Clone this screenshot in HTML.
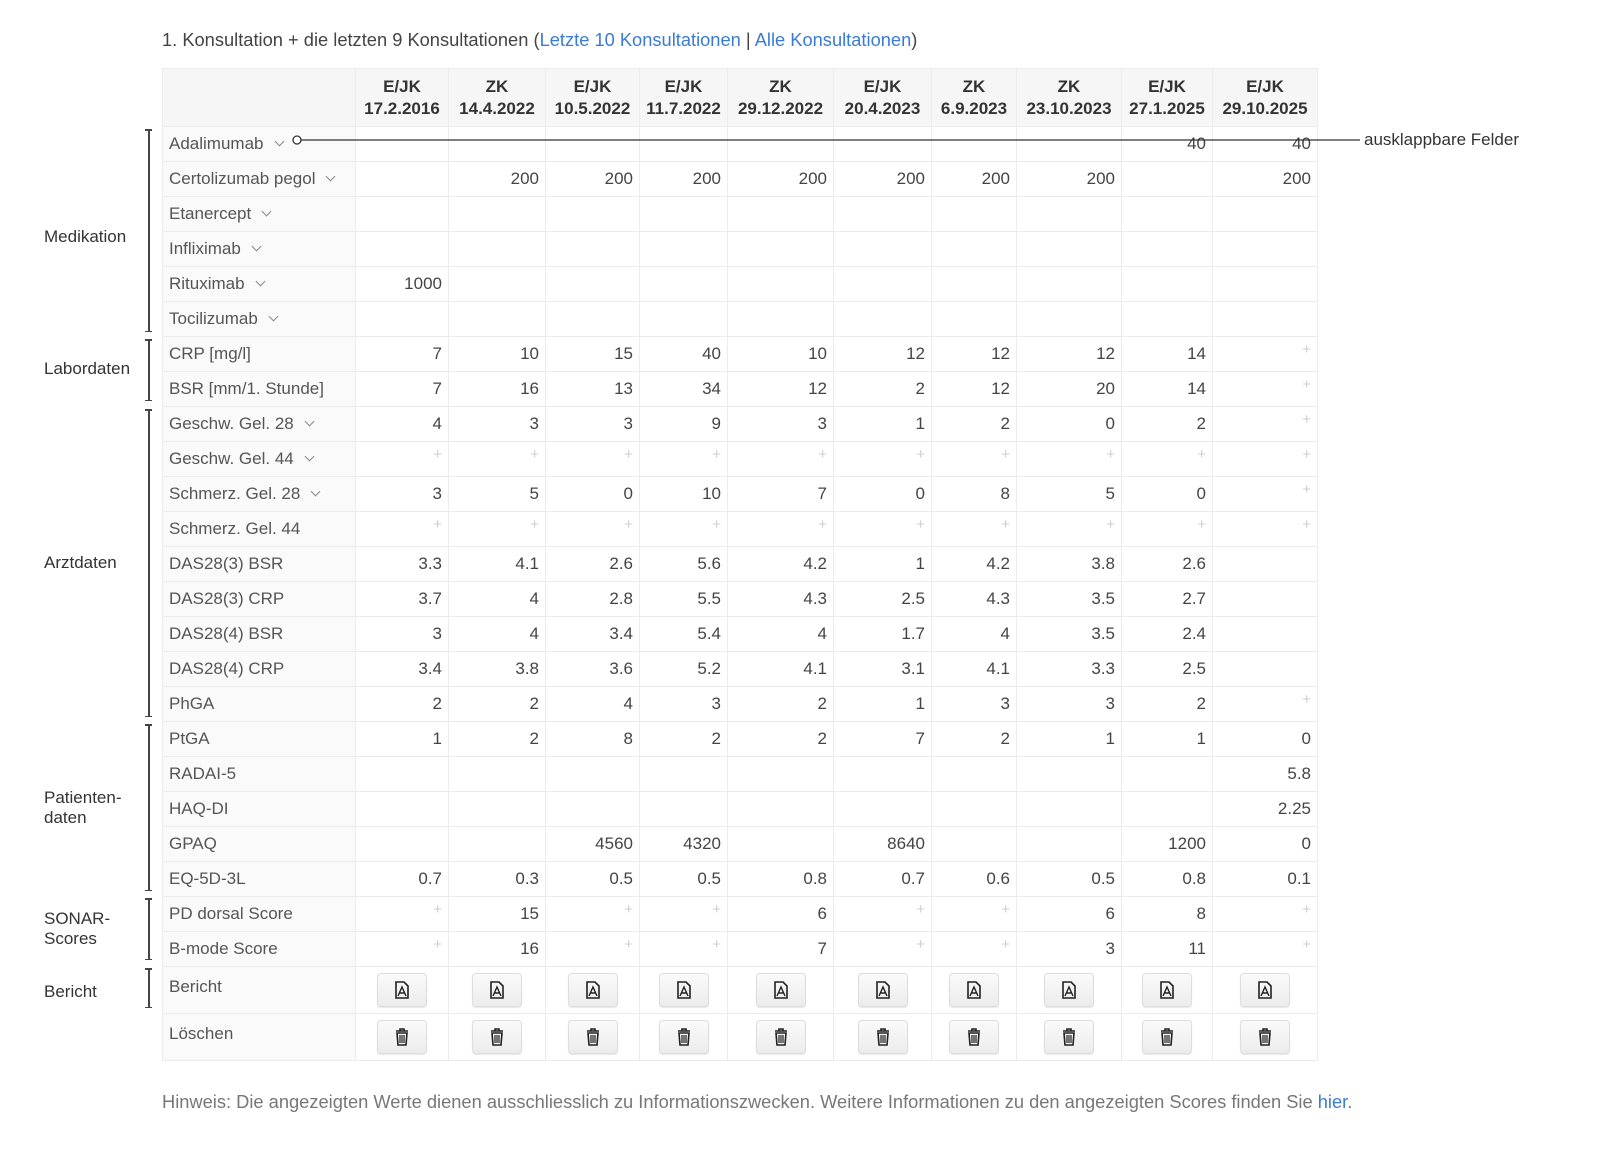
<!DOCTYPE html>
<html><head><meta charset="utf-8"><style>
body{margin:0;width:1600px;height:1153px;background:#fff;font-family:"Liberation Sans",Arial,sans-serif;color:#444;position:relative;overflow:hidden}
.title{position:absolute;left:162px;top:29px;font-size:18.3px;color:#444}
a{color:#3a7bd5;text-decoration:none}
table{position:absolute;left:162px;top:68px;border-collapse:collapse;table-layout:fixed;font-size:17px}
td,th{border:1px solid #ececec;padding:0 6px;height:34px;text-align:right;white-space:nowrap;overflow:visible}
th{background:#f6f6f6;font-weight:bold;color:#333;text-align:center;height:57px;line-height:22px;padding:0 1px}
td.l{text-align:left;color:#555}
tr td:first-child{background:#fafafa}
.p{color:#cfcfcf;font-size:15px;position:relative;top:-5px}
.ch{display:inline-block;width:6px;height:6px;border-right:1.5px solid #888;border-bottom:1.5px solid #888;transform:rotate(45deg);margin-left:12px;position:relative;top:-4px}
tr.b td{height:46px;text-align:center}
tr.b td.l{text-align:left}
tr.b td.l span{position:relative;top:-3px}
.btn{display:inline-block;width:48px;height:32px;border:1px solid #ddd;border-radius:4px;background:linear-gradient(#fafafa,#ececec);box-shadow:0 1px 1px rgba(0,0,0,.1);vertical-align:middle}
.btn svg{margin-top:7px}
.g{position:absolute;left:44px;font-size:17px;color:#333;line-height:20px}
.br{position:absolute;left:148px;width:1.5px;background:#444}
.br:before,.br:after{content:"";position:absolute;left:-3px;width:7px;height:1.5px;background:#444}
.br:before{top:0}.br:after{bottom:0}
.foot{position:absolute;left:162px;top:1091px;font-size:18.3px;color:#777}
</style></head><body>
<div class="title">1. Konsultation + die letzten 9 Konsultationen (<a>Letzte 10 Konsultationen</a> | <a>Alle Konsultationen</a>)</div>
<table>
<colgroup><col style="width:193px"><col style="width:93px"><col style="width:97px"><col style="width:94px"><col style="width:88px"><col style="width:106px"><col style="width:98px"><col style="width:85px"><col style="width:105px"><col style="width:91px"><col style="width:105px"></colgroup>
<tr><th></th><th>E/JK<br>17.2.2016</th><th>ZK<br>14.4.2022</th><th>E/JK<br>10.5.2022</th><th>E/JK<br>11.7.2022</th><th>ZK<br>29.12.2022</th><th>E/JK<br>20.4.2023</th><th>ZK<br>6.9.2023</th><th>ZK<br>23.10.2023</th><th>E/JK<br>27.1.2025</th><th>E/JK<br>29.10.2025</th></tr>
<tr><td class="l">Adalimumab<span class="ch"></span></td><td></td><td></td><td></td><td></td><td></td><td></td><td></td><td></td><td>40</td><td>40</td></tr>
<tr><td class="l">Certolizumab pegol<span class="ch"></span></td><td></td><td>200</td><td>200</td><td>200</td><td>200</td><td>200</td><td>200</td><td>200</td><td></td><td>200</td></tr>
<tr><td class="l">Etanercept<span class="ch"></span></td><td></td><td></td><td></td><td></td><td></td><td></td><td></td><td></td><td></td><td></td></tr>
<tr><td class="l">Infliximab<span class="ch"></span></td><td></td><td></td><td></td><td></td><td></td><td></td><td></td><td></td><td></td><td></td></tr>
<tr><td class="l">Rituximab<span class="ch"></span></td><td>1000</td><td></td><td></td><td></td><td></td><td></td><td></td><td></td><td></td><td></td></tr>
<tr><td class="l">Tocilizumab<span class="ch"></span></td><td></td><td></td><td></td><td></td><td></td><td></td><td></td><td></td><td></td><td></td></tr>
<tr><td class="l">CRP [mg/l]</td><td>7</td><td>10</td><td>15</td><td>40</td><td>10</td><td>12</td><td>12</td><td>12</td><td>14</td><td><span class="p">+</span></td></tr>
<tr><td class="l">BSR [mm/1. Stunde]</td><td>7</td><td>16</td><td>13</td><td>34</td><td>12</td><td>2</td><td>12</td><td>20</td><td>14</td><td><span class="p">+</span></td></tr>
<tr><td class="l">Geschw. Gel. 28<span class="ch"></span></td><td>4</td><td>3</td><td>3</td><td>9</td><td>3</td><td>1</td><td>2</td><td>0</td><td>2</td><td><span class="p">+</span></td></tr>
<tr><td class="l">Geschw. Gel. 44<span class="ch"></span></td><td><span class="p">+</span></td><td><span class="p">+</span></td><td><span class="p">+</span></td><td><span class="p">+</span></td><td><span class="p">+</span></td><td><span class="p">+</span></td><td><span class="p">+</span></td><td><span class="p">+</span></td><td><span class="p">+</span></td><td><span class="p">+</span></td></tr>
<tr><td class="l">Schmerz. Gel. 28<span class="ch"></span></td><td>3</td><td>5</td><td>0</td><td>10</td><td>7</td><td>0</td><td>8</td><td>5</td><td>0</td><td><span class="p">+</span></td></tr>
<tr><td class="l">Schmerz. Gel. 44</td><td><span class="p">+</span></td><td><span class="p">+</span></td><td><span class="p">+</span></td><td><span class="p">+</span></td><td><span class="p">+</span></td><td><span class="p">+</span></td><td><span class="p">+</span></td><td><span class="p">+</span></td><td><span class="p">+</span></td><td><span class="p">+</span></td></tr>
<tr><td class="l">DAS28(3) BSR</td><td>3.3</td><td>4.1</td><td>2.6</td><td>5.6</td><td>4.2</td><td>1</td><td>4.2</td><td>3.8</td><td>2.6</td><td></td></tr>
<tr><td class="l">DAS28(3) CRP</td><td>3.7</td><td>4</td><td>2.8</td><td>5.5</td><td>4.3</td><td>2.5</td><td>4.3</td><td>3.5</td><td>2.7</td><td></td></tr>
<tr><td class="l">DAS28(4) BSR</td><td>3</td><td>4</td><td>3.4</td><td>5.4</td><td>4</td><td>1.7</td><td>4</td><td>3.5</td><td>2.4</td><td></td></tr>
<tr><td class="l">DAS28(4) CRP</td><td>3.4</td><td>3.8</td><td>3.6</td><td>5.2</td><td>4.1</td><td>3.1</td><td>4.1</td><td>3.3</td><td>2.5</td><td></td></tr>
<tr><td class="l">PhGA</td><td>2</td><td>2</td><td>4</td><td>3</td><td>2</td><td>1</td><td>3</td><td>3</td><td>2</td><td><span class="p">+</span></td></tr>
<tr><td class="l">PtGA</td><td>1</td><td>2</td><td>8</td><td>2</td><td>2</td><td>7</td><td>2</td><td>1</td><td>1</td><td>0</td></tr>
<tr><td class="l">RADAI-5</td><td></td><td></td><td></td><td></td><td></td><td></td><td></td><td></td><td></td><td>5.8</td></tr>
<tr><td class="l">HAQ-DI</td><td></td><td></td><td></td><td></td><td></td><td></td><td></td><td></td><td></td><td>2.25</td></tr>
<tr><td class="l">GPAQ</td><td></td><td></td><td>4560</td><td>4320</td><td></td><td>8640</td><td></td><td></td><td>1200</td><td>0</td></tr>
<tr><td class="l">EQ-5D-3L</td><td>0.7</td><td>0.3</td><td>0.5</td><td>0.5</td><td>0.8</td><td>0.7</td><td>0.6</td><td>0.5</td><td>0.8</td><td>0.1</td></tr>
<tr><td class="l">PD dorsal Score</td><td><span class="p">+</span></td><td>15</td><td><span class="p">+</span></td><td><span class="p">+</span></td><td>6</td><td><span class="p">+</span></td><td><span class="p">+</span></td><td>6</td><td>8</td><td><span class="p">+</span></td></tr>
<tr><td class="l">B-mode Score</td><td><span class="p">+</span></td><td>16</td><td><span class="p">+</span></td><td><span class="p">+</span></td><td>7</td><td><span class="p">+</span></td><td><span class="p">+</span></td><td>3</td><td>11</td><td><span class="p">+</span></td></tr>
<tr class="b"><td class="l"><span>Bericht</span></td>
<td><span class="btn"><svg width="16" height="18" viewBox="0 0 16 18"><path d="M2 1h8l4 4v12H2z" fill="none" stroke="#222" stroke-width="1.6"/><path d="M4 15l4-9 4 9M5 12h6" fill="none" stroke="#222" stroke-width="1.4"/></svg></span></td>
<td><span class="btn"><svg width="16" height="18" viewBox="0 0 16 18"><path d="M2 1h8l4 4v12H2z" fill="none" stroke="#222" stroke-width="1.6"/><path d="M4 15l4-9 4 9M5 12h6" fill="none" stroke="#222" stroke-width="1.4"/></svg></span></td>
<td><span class="btn"><svg width="16" height="18" viewBox="0 0 16 18"><path d="M2 1h8l4 4v12H2z" fill="none" stroke="#222" stroke-width="1.6"/><path d="M4 15l4-9 4 9M5 12h6" fill="none" stroke="#222" stroke-width="1.4"/></svg></span></td>
<td><span class="btn"><svg width="16" height="18" viewBox="0 0 16 18"><path d="M2 1h8l4 4v12H2z" fill="none" stroke="#222" stroke-width="1.6"/><path d="M4 15l4-9 4 9M5 12h6" fill="none" stroke="#222" stroke-width="1.4"/></svg></span></td>
<td><span class="btn"><svg width="16" height="18" viewBox="0 0 16 18"><path d="M2 1h8l4 4v12H2z" fill="none" stroke="#222" stroke-width="1.6"/><path d="M4 15l4-9 4 9M5 12h6" fill="none" stroke="#222" stroke-width="1.4"/></svg></span></td>
<td><span class="btn"><svg width="16" height="18" viewBox="0 0 16 18"><path d="M2 1h8l4 4v12H2z" fill="none" stroke="#222" stroke-width="1.6"/><path d="M4 15l4-9 4 9M5 12h6" fill="none" stroke="#222" stroke-width="1.4"/></svg></span></td>
<td><span class="btn"><svg width="16" height="18" viewBox="0 0 16 18"><path d="M2 1h8l4 4v12H2z" fill="none" stroke="#222" stroke-width="1.6"/><path d="M4 15l4-9 4 9M5 12h6" fill="none" stroke="#222" stroke-width="1.4"/></svg></span></td>
<td><span class="btn"><svg width="16" height="18" viewBox="0 0 16 18"><path d="M2 1h8l4 4v12H2z" fill="none" stroke="#222" stroke-width="1.6"/><path d="M4 15l4-9 4 9M5 12h6" fill="none" stroke="#222" stroke-width="1.4"/></svg></span></td>
<td><span class="btn"><svg width="16" height="18" viewBox="0 0 16 18"><path d="M2 1h8l4 4v12H2z" fill="none" stroke="#222" stroke-width="1.6"/><path d="M4 15l4-9 4 9M5 12h6" fill="none" stroke="#222" stroke-width="1.4"/></svg></span></td>
<td><span class="btn"><svg width="16" height="18" viewBox="0 0 16 18"><path d="M2 1h8l4 4v12H2z" fill="none" stroke="#222" stroke-width="1.6"/><path d="M4 15l4-9 4 9M5 12h6" fill="none" stroke="#222" stroke-width="1.4"/></svg></span></td></tr>
<tr class="b"><td class="l"><span>Löschen</span></td>
<td><span class="btn"><svg width="14" height="18" viewBox="0 0 14 18"><path d="M1 3h12M5 3V1h4v2M2 5h10l-1 12H3z" fill="none" stroke="#222" stroke-width="1.6"/><path d="M5 7v8M7 7v8M9 7v8" stroke="#222" stroke-width="1.2"/></svg></span></td>
<td><span class="btn"><svg width="14" height="18" viewBox="0 0 14 18"><path d="M1 3h12M5 3V1h4v2M2 5h10l-1 12H3z" fill="none" stroke="#222" stroke-width="1.6"/><path d="M5 7v8M7 7v8M9 7v8" stroke="#222" stroke-width="1.2"/></svg></span></td>
<td><span class="btn"><svg width="14" height="18" viewBox="0 0 14 18"><path d="M1 3h12M5 3V1h4v2M2 5h10l-1 12H3z" fill="none" stroke="#222" stroke-width="1.6"/><path d="M5 7v8M7 7v8M9 7v8" stroke="#222" stroke-width="1.2"/></svg></span></td>
<td><span class="btn"><svg width="14" height="18" viewBox="0 0 14 18"><path d="M1 3h12M5 3V1h4v2M2 5h10l-1 12H3z" fill="none" stroke="#222" stroke-width="1.6"/><path d="M5 7v8M7 7v8M9 7v8" stroke="#222" stroke-width="1.2"/></svg></span></td>
<td><span class="btn"><svg width="14" height="18" viewBox="0 0 14 18"><path d="M1 3h12M5 3V1h4v2M2 5h10l-1 12H3z" fill="none" stroke="#222" stroke-width="1.6"/><path d="M5 7v8M7 7v8M9 7v8" stroke="#222" stroke-width="1.2"/></svg></span></td>
<td><span class="btn"><svg width="14" height="18" viewBox="0 0 14 18"><path d="M1 3h12M5 3V1h4v2M2 5h10l-1 12H3z" fill="none" stroke="#222" stroke-width="1.6"/><path d="M5 7v8M7 7v8M9 7v8" stroke="#222" stroke-width="1.2"/></svg></span></td>
<td><span class="btn"><svg width="14" height="18" viewBox="0 0 14 18"><path d="M1 3h12M5 3V1h4v2M2 5h10l-1 12H3z" fill="none" stroke="#222" stroke-width="1.6"/><path d="M5 7v8M7 7v8M9 7v8" stroke="#222" stroke-width="1.2"/></svg></span></td>
<td><span class="btn"><svg width="14" height="18" viewBox="0 0 14 18"><path d="M1 3h12M5 3V1h4v2M2 5h10l-1 12H3z" fill="none" stroke="#222" stroke-width="1.6"/><path d="M5 7v8M7 7v8M9 7v8" stroke="#222" stroke-width="1.2"/></svg></span></td>
<td><span class="btn"><svg width="14" height="18" viewBox="0 0 14 18"><path d="M1 3h12M5 3V1h4v2M2 5h10l-1 12H3z" fill="none" stroke="#222" stroke-width="1.6"/><path d="M5 7v8M7 7v8M9 7v8" stroke="#222" stroke-width="1.2"/></svg></span></td>
<td><span class="btn"><svg width="14" height="18" viewBox="0 0 14 18"><path d="M1 3h12M5 3V1h4v2M2 5h10l-1 12H3z" fill="none" stroke="#222" stroke-width="1.6"/><path d="M5 7v8M7 7v8M9 7v8" stroke="#222" stroke-width="1.2"/></svg></span></td></tr>
</table>
<svg style="position:absolute;left:0;top:0" width="1600" height="1153">
<line x1="301" y1="140" x2="1360" y2="140" stroke="#333" stroke-width="1.3"/>
<circle cx="297" cy="140" r="4" fill="#fff" stroke="#333" stroke-width="1.3"/>
</svg>
<div style="position:absolute;left:1364px;top:130px;font-size:17px;color:#333">ausklappbare Felder</div>
<div class="br" style="top:129px;height:203px"></div>
<div class="br" style="top:339px;height:62px"></div>
<div class="br" style="top:409px;height:308px"></div>
<div class="br" style="top:724px;height:167px"></div>
<div class="br" style="top:898px;height:62px"></div>
<div class="br" style="top:968px;height:40px"></div>
<div class="g" style="top:227px">Medikation</div>
<div class="g" style="top:359px">Labordaten</div>
<div class="g" style="top:553px">Arztdaten</div>
<div class="g" style="top:788px">Patienten-<br>daten</div>
<div class="g" style="top:909px">SONAR-<br>Scores</div>
<div class="g" style="top:982px">Bericht</div>
<div class="foot">Hinweis: Die angezeigten Werte dienen ausschliesslich zu Informationszwecken. Weitere Informationen zu den angezeigten Scores finden Sie <a>hier</a>.</div>
</body></html>
